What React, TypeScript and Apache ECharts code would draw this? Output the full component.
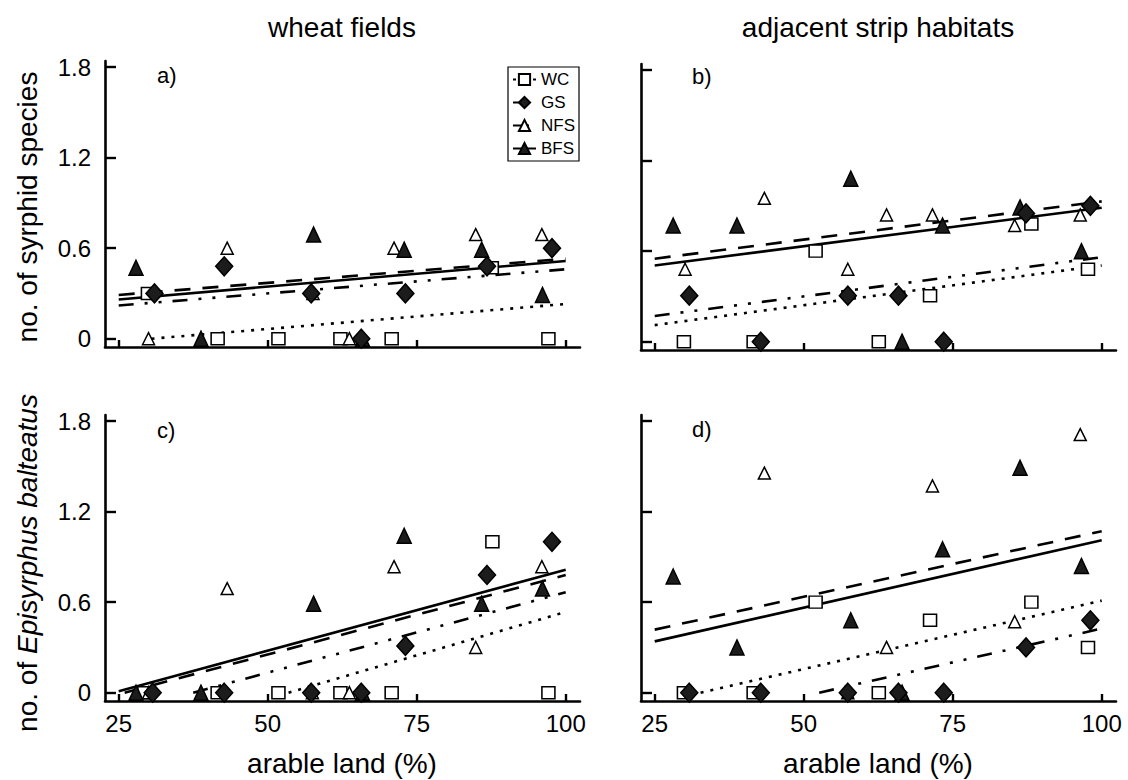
import React, { useEffect, useRef } from "react";
import * as echarts from "echarts";

// ---------- data ----------
const seriesNames = ["WC", "GS", "NFS", "BFS"];
const xTicks = [25, 50, 75, 100];
const yTicks = [0, 0.6, 1.2, 1.8];
const panelTitles = ["wheat fields", "adjacent strip habitats"];
const panelLetters = ["a)", "b)", "c)", "d)"];
const xTitle = "arable land (%)";

// panel a: wheat fields, no. of syrphid species
const aWC = [[29.9, 0.3], [41.6, 0], [51.8, 0], [62.2, 0], [70.8, 0], [87.6, 0.47], [97.1, 0]];
const aGS = [[31.0, 0.3], [42.7, 0.48], [57.3, 0.3], [65.7, 0], [73.1, 0.3], [86.8, 0.48], [97.7, 0.6]];
const aNFS = [[30.0, 0], [43.2, 0.6], [57.6, 0.3], [63.7, 0], [71.2, 0.6], [84.9, 0.69], [96.0, 0.69]];
const aBFS = [[27.9, 0.47], [38.8, 0], [57.7, 0.69], [65.9, 0], [72.9, 0.59], [85.9, 0.59], [96.1, 0.29]];
const aLineWC = [[30.5, 0], [100, 0.23]];
const aLineGS = [[25, 0.22], [100, 0.46]];
const aLineNFS = [[25, 0.29], [100, 0.53]];
const aLineBFS = [[25, 0.26], [100, 0.515]];

// panel b: adjacent strip habitats, no. of syrphid species
const bWC = [[29.9, 0], [41.6, 0], [52.0, 0.6], [62.6, 0], [71.2, 0.305], [88.2, 0.78], [97.7, 0.48]];
const bGS = [[30.8, 0.305], [42.8, 0], [57.4, 0.305], [65.9, 0.305], [73.5, 0], [87.3, 0.85], [98.1, 0.9]];
const bNFS = [[30.1, 0.48], [43.4, 0.95], [57.4, 0.48], [63.9, 0.84], [71.6, 0.84], [85.4, 0.77], [96.4, 0.84]];
const bBFS = [[28.1, 0.77], [38.8, 0.77], [57.9, 1.08], [66.5, 0], [73.3, 0.77], [86.3, 0.89], [96.6, 0.6]];
const bLineWC = [[25, 0.11], [100, 0.505]];
const bLineGS = [[25, 0.17], [100, 0.56]];
const bLineNFS = [[25, 0.55], [100, 0.93]];
const bLineBFS = [[25, 0.505], [100, 0.888]];

// panel c: wheat fields, no. of Episyrphus balteatus
const cWC = [[29.3, 0], [41.6, 0], [51.8, 0], [62.2, 0], [70.8, 0], [87.7, 1.0], [97.1, 0]];
const cGS = [[30.7, 0], [42.7, 0], [57.3, 0], [65.7, 0], [73.1, 0.31], [86.8, 0.78], [97.7, 1.0]];
const cNFS = [[30.0, 0], [43.2, 0.69], [57.5, 0], [63.7, 0], [71.2, 0.835], [84.9, 0.3], [96.0, 0.835]];
const cBFS = [[27.9, 0], [38.8, 0], [57.7, 0.59], [65.9, 0], [72.9, 1.04], [85.9, 0.59], [96.1, 0.69]];
const cLineWC = [[53.5, 0], [100, 0.535]];
const cLineGS = [[37.5, 0], [100, 0.665]];
const cLineNFS = [[26, 0], [100, 0.78]];
const cLineBFS = [[25, 0.01], [100, 0.815]];

// panel d: adjacent strip habitats, no. of Episyrphus balteatus
const dWC = [[29.9, 0], [41.6, 0], [52.0, 0.6], [62.6, 0], [71.2, 0.48], [88.2, 0.6], [97.7, 0.3]];
const dGS = [[30.8, 0], [42.8, 0], [57.4, 0], [65.9, 0], [73.5, 0], [87.3, 0.3], [98.1, 0.48]];
const dNFS = [[43.4, 1.455], [57.4, 0], [63.9, 0.3], [71.6, 1.37], [85.4, 0.47], [96.4, 1.71]];
const dBFS = [[28.1, 0.77], [38.8, 0.3], [57.9, 0.48], [66.5, 0], [73.3, 0.95], [86.3, 1.49], [96.6, 0.84]];
const dLineWC = [[32.7, 0], [100, 0.61]];
const dLineGS = [[52.6, 0], [100, 0.425]];
const dLineNFS = [[25, 0.418], [100, 1.07]];
const dLineBFS = [[25, 0.34], [100, 1.01]];

const panelPoints = [
  [aWC, aGS, aNFS, aBFS],
  [bWC, bGS, bNFS, bBFS],
  [cWC, cGS, cNFS, cBFS],
  [dWC, dGS, dNFS, dBFS],
];
const panelLines = [
  [aLineWC, aLineGS, aLineNFS, aLineBFS],
  [bLineWC, bLineGS, bLineNFS, bLineBFS],
  [cLineWC, cLineGS, cLineNFS, cLineBFS],
  [dLineWC, dLineGS, dLineNFS, dLineBFS],
];

// ---------- styles ----------
const FONT = '"Liberation Sans", Arial, Helvetica, sans-serif';
const INK = "#000";
const DARK = "#1c1c1c";

const grids = [
  { left: 105, top: 61, width: 475, height: 286 },
  { left: 641, top: 64, width: 475, height: 286 },
  { left: 105, top: 415, width: 475, height: 286 },
  { left: 641, top: 415, width: 475, height: 286 },
];

const seriesStyle = {
  WC: { symbol: "rect", size: [13, 12], fill: "#fff", dash: [3, 7], z: 3 },
  GS: { symbol: "diamond", size: [17, 19], fill: DARK, dash: [15, 11, 3, 11, 3, 11], z: 6 },
  NFS: { symbol: "triangle", size: [12, 12], fill: "#fff", dash: [16, 12], z: 4 },
  BFS: { symbol: "triangle", size: [14, 15], fill: DARK, dash: "solid", z: 5 },
};

function buildOption() {
  const xAxis = grids.map((_, i) => ({
    type: "value",
    gridIndex: i,
    min: 22.7,
    max: 102.4,
    axisLine: { show: true, onZero: false, lineStyle: { color: INK, width: 2.6 } },
    axisTick: {
      show: true,
      inside: true,
      length: 7,
      customValues: xTicks,
      lineStyle: { color: INK, width: 2.4 },
    },
    axisLabel: {
      show: i >= 2,
      customValues: xTicks,
      margin: 10,
      color: INK,
      fontSize: 24,
      fontFamily: FONT,
    },
    splitLine: { show: false },
  }));
  const yAxis = grids.map((_, i) => ({
    type: "value",
    gridIndex: i,
    min: -0.055,
    max: 1.84,
    axisLine: { show: true, onZero: false, lineStyle: { color: INK, width: 2.6 } },
    axisTick: {
      show: true,
      inside: true,
      length: 11,
      customValues: yTicks,
      lineStyle: { color: INK, width: 2.4 },
    },
    axisLabel: {
      show: i % 2 === 0,
      customValues: yTicks,
      margin: 14,
      color: INK,
      fontSize: 24,
      fontFamily: FONT,
    },
    splitLine: { show: false },
  }));

  const series: any[] = [];
  // legend-only entries
  seriesNames.forEach((name) => {
    const st = (seriesStyle as any)[name];
    series.push({
      type: "line",
      name,
      xAxisIndex: 0,
      yAxisIndex: 0,
      data: [],
      symbol: st.symbol,
      symbolSize: st.size,
      itemStyle: { color: st.fill, borderColor: INK, borderWidth: 1.5 },
      lineStyle: { color: INK, width: 2.2, type: st.dash },
    });
  });
  panelLines.forEach((lines, gi) => {
    lines.forEach((data, si) => {
      const st = (seriesStyle as any)[seriesNames[si]];
      series.push({
        type: "line",
        name: `${seriesNames[si]} fit ${gi}`,
        xAxisIndex: gi,
        yAxisIndex: gi,
        data,
        symbol: "none",
        silent: true,
        z: 2,
        lineStyle: { color: INK, width: 2.6, type: st.dash },
      });
    });
  });
  panelPoints.forEach((pts, gi) => {
    pts.forEach((data, si) => {
      const st = (seriesStyle as any)[seriesNames[si]];
      series.push({
        type: "scatter",
        name: `${seriesNames[si]} pts ${gi}`,
        xAxisIndex: gi,
        yAxisIndex: gi,
        data,
        symbol: st.symbol,
        symbolSize: st.size,
        z: st.z,
        itemStyle: { color: st.fill, borderColor: INK, borderWidth: 1.5, opacity: 1 },
      });
    });
  });

  const txt = (text: string, x: number, y: number, size: number, extra: any = {}) => ({
    type: "text",
    x,
    y,
    rotation: extra.rotation || 0,
    silent: true,
    style: {
      text,
      fill: INK,
      font: `${size}px ${FONT}`,
      fontSize: size,
      fontFamily: FONT,
      align: extra.align || "center",
      verticalAlign: "middle",
      textAlign: extra.align || "center",
      textVerticalAlign: "middle",
      rich: extra.rich,
    },
  });

  const letterPos = [
    [157, 75],
    [692, 76],
    [157, 430],
    [692, 429],
  ];

  const graphic: any[] = [
    txt(panelTitles[0], 342, 27, 28),
    txt(panelTitles[1], 878, 27, 28),
    txt(xTitle, 342, 763, 28),
    txt(xTitle, 878, 763, 28),
    txt("no. of syrphid species", 27, 207, 28, { rotation: Math.PI / 2 }),
    txt("{n|no. of }{i|Episyrphus balteatus}", 27, 563, 28, {
      rotation: Math.PI / 2,
      rich: {
        n: { fontSize: 28, fontFamily: FONT, fill: INK, color: INK },
        i: { fontSize: 28, fontFamily: FONT, fontStyle: "italic", fill: INK, color: INK },
      },
    }),
  ];
  letterPos.forEach((p, i) => graphic.push(txt(panelLetters[i], p[0], p[1], 22, { align: "left" })));

  return {
    animation: false,
    backgroundColor: "#fff",
    grid: grids.map((g) => ({ ...g, containLabel: false })),
    xAxis,
    yAxis,
    legend: {
      data: seriesNames,
      orient: "vertical",
      left: 508,
      top: 67,
      itemWidth: 23,
      itemHeight: 14,
      itemGap: 6,
      padding: [4, 4, 4, 4],
      borderColor: INK,
      borderWidth: 1.2,
      borderRadius: 0,
      selectedMode: false,
      textStyle: { color: INK, fontSize: 17, lineHeight: 16, fontFamily: FONT },
    },
    graphic,
    series,
  };
}

export default function App() {
  const ref = useRef<HTMLDivElement>(null);
  useEffect(() => {
    if (!ref.current) return;
    const chart = echarts.init(ref.current, null, { renderer: "svg" });
    chart.setOption(buildOption() as any);
    return () => chart.dispose();
  }, []);
  return (
    <div
      ref={ref}
      style={{ position: "fixed", left: 0, top: 0, width: 1128, height: 780, background: "#fff" }}
    />
  );
}
